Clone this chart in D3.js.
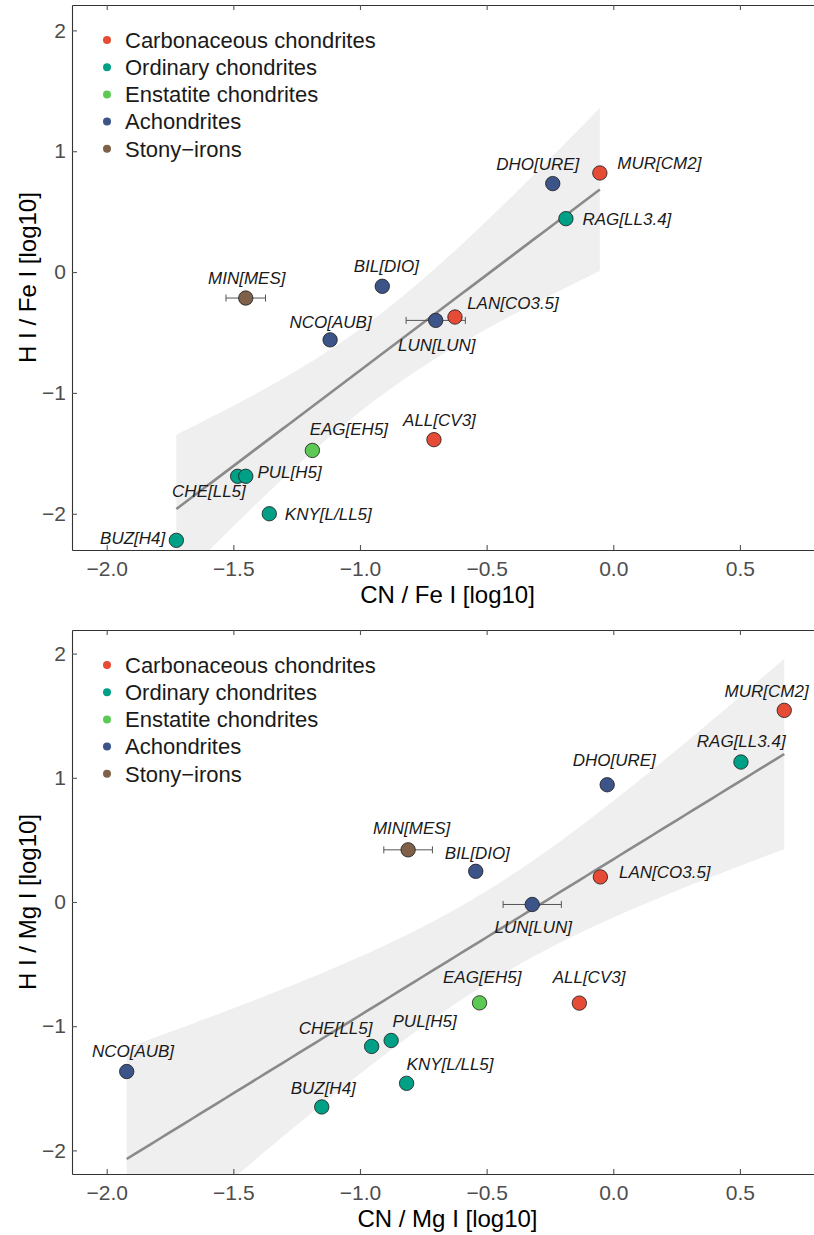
<!DOCTYPE html>
<html>
<head>
<meta charset="utf-8">
<script src="https://cdn.jsdelivr.net/npm/d3@7"></script>
<style>
  body { margin: 0; background: #fff; }
  svg { font-family: "Liberation Sans", Arial, sans-serif; display: block; }
</style>
</head>
<body>
<script>
// meteorite samples
const codes   = ["MUR", "DHO", "RAG", "LAN", "LUN", "BIL", "MIN", "NCO", "EAG", "ALL", "CHE", "PUL", "KNY", "BUZ"];
const classes = ["CM2", "URE", "LL3.4", "CO3.5", "LUN", "DIO", "MES", "AUB", "EH5", "CV3", "LL5", "H5", "L/LL5", "H4"];
const groups  = ["Carbonaceous chondrites", "Achondrites", "Ordinary chondrites", "Carbonaceous chondrites",
                 "Achondrites", "Achondrites", "Stony\u2212irons", "Achondrites", "Enstatite chondrites",
                 "Carbonaceous chondrites", "Ordinary chondrites", "Ordinary chondrites", "Ordinary chondrites",
                 "Ordinary chondrites"];

const cnFe    = [-0.053, -0.239, -0.187, -0.625, -0.701, -0.912, -1.451, -1.118, -1.188, -0.708, -1.483, -1.451, -1.358, -1.725];
const hFe     = [0.82, 0.732, 0.442, -0.372, -0.40, -0.118, -0.215, -0.561, -1.476, -1.387, -1.69, -1.69, -2.0, -2.22];
const cnFeErr = [0, 0, 0, 0, 0.117, 0, 0.078, 0, 0, 0, 0, 0, 0, 0];

const cnMg    = [0.675, -0.024, 0.504, -0.051, -0.32, -0.543, -0.81, -1.921, -0.528, -0.134, -0.954, -0.877, -0.816, -1.151];
const hMg     = [1.543, 0.944, 1.127, 0.202, -0.02, 0.247, 0.42, -1.365, -0.812, -0.814, -1.163, -1.115, -1.46, -1.65];
const cnMgErr = [0, 0, 0, 0, 0.115, 0, 0.096, 0, 0, 0, 0, 0, 0, 0];

const groupNames  = ["Carbonaceous chondrites", "Ordinary chondrites", "Enstatite chondrites", "Achondrites", "Stony\u2212irons"];
const groupColors = ["#E64B35", "#00A087", "#5CC955", "#3C5488", "#7E6148"];

const xTicks = [-2.0, -1.5, -1.0, -0.5, 0.0, 0.5];
const yTicksFe = [-2, -1, 0, 1, 2];
const yTicksMg = [-2, -1, 0, 1, 2];

// label placement (pixel offsets of label centre / baseline from the point)
const labelFe = [[59.5, -4], [-15, -14], [61, 6], [58, -8], [1, 31], [4, -14], [1, -14], [0.5, -12],
                 [36.5, -15], [5.5, -14], [-28.7, 21], [43.8, 2], [59, 6], [-43.7, 4]];
const labelMg = [[-17.6, -13.4], [7, -19], [0.3, -15], [64.4, 1.3], [1, 28.7], [1.5, -12.7], [3.5, -16], [6.3, -14.3],
                 [2.7, -20.3], [9.7, -20.3], [-36, -12.7], [33.5, -13.3], [43.5, -13], [1.5, -12.7]];

const width = 814, height = 1235;
const color = d3.scaleOrdinal(groupNames, groupColors);

const svg = d3.select("body").append("svg")
  .attr("width", width)
  .attr("height", height);

// least squares fit with 95% confidence band, like geom_smooth(method = "lm")
function fitLine(xs, ys) {
  const n = xs.length;
  const mx = d3.mean(xs), my = d3.mean(ys);
  let sxx = 0, sxy = 0;
  xs.forEach((x, i) => { sxx += (x - mx) ** 2; sxy += (x - mx) * (ys[i] - my); });
  const b = sxy / sxx, a = my - b * mx;
  const rss = d3.sum(xs, (x, i) => (ys[i] - a - b * x) ** 2);
  const s = Math.sqrt(rss / (n - 2));
  const t = 2.178813; // t(0.975, df = 12)
  const [x0, x1] = d3.extent(xs);
  return d3.range(81).map(k => {
    const x = x0 + (x1 - x0) * k / 80;
    const fit = a + b * x;
    const se = s * Math.sqrt(1 / n + (x - mx) ** 2 / sxx);
    return { x, fit, lo: fit - t * se, hi: fit + t * se };
  });
}

function panel(opt) {
  const { top, bottom, xs, ys, err, yDomain, yTicks, labels, xTitle, yTitle, id } = opt;
  const left = 72, right = 823;

  const x = d3.scaleLinear().domain([-2.137, 0.828]).range([left, right]);
  const y = d3.scaleLinear().domain(yDomain).range([bottom, top]);

  const g = svg.append("g");

  g.append("clipPath").attr("id", id)
    .append("rect")
    .attr("x", left).attr("y", top)
    .attr("width", right - left).attr("height", bottom - top);

  const fit = fitLine(xs, ys);
  const plot = g.append("g").attr("clip-path", `url(#${id})`);

  plot.append("path")
    .datum(fit)
    .attr("fill", "#efefef")
    .attr("d", d3.area().x(d => x(d.x)).y0(d => y(d.lo)).y1(d => y(d.hi)));

  plot.append("path")
    .datum(fit)
    .attr("fill", "none")
    .attr("stroke", "#8a8a8a")
    .attr("stroke-width", 2.6)
    .attr("d", d3.line().x(d => x(d.x)).y(d => y(d.fit)));

  const idx = d3.range(xs.length);

  // horizontal error bars
  const eb = plot.append("g")
    .attr("stroke", "#555")
    .attr("stroke-width", 1)
    .selectAll("g")
    .data(idx.filter(i => err[i] > 0))
    .join("g");
  eb.append("line")
    .attr("x1", i => x(xs[i] - err[i])).attr("x2", i => x(xs[i] + err[i]))
    .attr("y1", i => y(ys[i])).attr("y2", i => y(ys[i]));
  eb.append("line")
    .attr("x1", i => x(xs[i] - err[i])).attr("x2", i => x(xs[i] - err[i]))
    .attr("y1", i => y(ys[i]) - 3.5).attr("y2", i => y(ys[i]) + 3.5);
  eb.append("line")
    .attr("x1", i => x(xs[i] + err[i])).attr("x2", i => x(xs[i] + err[i]))
    .attr("y1", i => y(ys[i]) - 3.5).attr("y2", i => y(ys[i]) + 3.5);

  plot.append("g")
    .selectAll("circle")
    .data(idx)
    .join("circle")
    .attr("cx", i => x(xs[i]))
    .attr("cy", i => y(ys[i]))
    .attr("r", 7.2)
    .attr("fill", i => color(groups[i]))
    .attr("stroke", "#1a1a1a")
    .attr("stroke-width", 0.8);

  plot.append("g")
    .attr("font-size", 17)
    .attr("font-style", "italic")
    .attr("fill", "#1a1a1a")
    .attr("text-anchor", "middle")
    .selectAll("text")
    .data(idx)
    .join("text")
    .attr("x", i => x(xs[i]) + labels[i][0])
    .attr("y", i => y(ys[i]) + labels[i][1])
    .text(i => `${codes[i]}[${classes[i]}]`);

  // axes: ticks point inward, as in theme_bw-like frames
  const styleAxis = a => {
    a.selectAll(".domain").attr("stroke", "#333").attr("stroke-width", 1.1);
    a.selectAll(".tick line").attr("stroke", "#555").attr("stroke-width", 1.1);
    a.selectAll(".tick text").attr("fill", "#4d4d4d").attr("font-size", 21);
    a.attr("font-family", null);
  };

  g.append("g")
    .attr("transform", `translate(0,${bottom})`)
    .call(d3.axisBottom(x).tickValues(xTicks).tickFormat(d3.format(".1f")).tickSize(-5).tickSizeOuter(0).tickPadding(11))
    .call(styleAxis);

  g.append("g")
    .attr("transform", `translate(0,${top})`)
    .call(d3.axisTop(x).tickValues(xTicks).tickFormat("").tickSize(-5).tickSizeOuter(0))
    .call(styleAxis);

  g.append("g")
    .attr("transform", `translate(${left},0)`)
    .call(d3.axisLeft(y).tickValues(yTicks).tickFormat(d3.format("d")).tickSize(-5).tickSizeOuter(0).tickPadding(6))
    .call(styleAxis);

  g.append("text")
    .attr("x", (left + right) / 2)
    .attr("y", bottom + 53)
    .attr("text-anchor", "middle")
    .attr("font-size", 24)
    .attr("fill", "#000")
    .text(xTitle);

  g.append("text")
    .attr("transform", `translate(36,${(top + bottom) / 2}) rotate(-90)`)
    .attr("text-anchor", "middle")
    .attr("font-size", 24)
    .attr("fill", "#000")
    .text(yTitle);

  // legend
  const leg = g.append("g")
    .selectAll("g")
    .data(groupNames)
    .join("g")
    .attr("transform", (d, i) => `translate(107,${top + 35 + i * 27.2})`);
  leg.append("circle").attr("r", 4).attr("fill", d => color(d));
  leg.append("text")
    .attr("x", 18)
    .attr("dy", "0.35em")
    .attr("font-size", 22)
    .attr("fill", "#1a1a1a")
    .text(d => d);
}

panel({
  id: "clip-fe", top: 5, bottom: 550,
  xs: cnFe, ys: hFe, err: cnFeErr,
  yDomain: [-2.30, 2.21], yTicks: yTicksFe, labels: labelFe,
  xTitle: "CN / Fe I [log10]", yTitle: "H I / Fe I [log10]"
});

panel({
  id: "clip-mg", top: 630, bottom: 1174,
  xs: cnMg, ys: hMg, err: cnMgErr,
  yDomain: [-2.19, 2.19], yTicks: yTicksMg, labels: labelMg,
  xTitle: "CN / Mg I [log10]", yTitle: "H I / Mg I [log10]"
});
</script>
</body>
</html>
